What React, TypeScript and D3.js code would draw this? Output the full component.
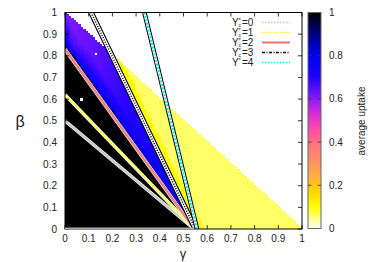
import { useEffect, useRef } from "react"
import * as d3 from "d3"

const gammaTicks = [0, 0.1, 0.2, 0.3, 0.4, 0.5, 0.6, 0.7, 0.8, 0.9, 1]
const betaTicks = [0, 0.1, 0.2, 0.3, 0.4, 0.5, 0.6, 0.7, 0.8, 0.9, 1]
const cbTicks = [0, 0.2, 0.4, 0.6, 0.8, 1]

// colour bar palette, value -> colour
const paletteValues = [0, 0.06, 0.1, 0.18, 0.24, 0.3, 0.38, 0.45, 0.52, 0.58, 0.64, 0.7, 0.8, 0.9, 1]
const paletteColors = ["#ffffff", "#ffff66", "#ffff00", "#ffd000", "#ffb040", "#ff9460", "#ff7878", "#ff50a0",
    "#e030d0", "#a020f0", "#6010ff", "#2000ff", "#0000f0", "#000080", "#000000"]

// Y* threshold lines: start (γ, β) and end (γ, β)
const lineNames = ["0", "1", "2", "3", "4"]
const lineGamma0 = [0, 0, 0, 0.11, 0.335]
const lineBeta0 = [0.5, 0.62, 0.83, 1, 1]
const lineGamma1 = [0.545, 0.545, 0.545, 0.55, 0.557]
const lineBeta1 = [0, 0, 0, 0, 0]
// Y*=0 also runs along the γ axis
const axisLineGamma = [0, 0.545]

// heat map (grid step 0.01 on the triangle β+γ<=1)
const gridStep = 0.01
const blackEdgeBeta = 0.855   // upper edge of the uptake=1 region at γ=0
const blackEdgeGamma = 0.545  // ... and where it meets β=0
const bandBeta = [1, 0.8, 0.6, 0.4, 0.2, 0]
const bandT = [0, 0.15, 0.5, 1]
const bandValues = [
    [0.74, 0.63, 0.6, 0.61],
    [0.8, 0.69, 0.64, 0.66],
    [0.84, 0.74, 0.68, 0.7],
    [0.86, 0.78, 0.72, 0.74],
    [0.88, 0.82, 0.77, 0.79],
    [0.9, 0.87, 0.84, 0.85],
]
const yellowNear = 0.1
const yellowFar = 0.06
const yellowStrip = 0.035
const whiteCells = [[0.07, 0.6], [0.13, 0.81]]

const font = "'Liberation Sans', Arial, sans-serif"

const App = () => {
    const ref = useRef<SVGSVGElement>(null)

    useEffect(() => {
        const svg = d3.select(ref.current)
        svg.selectAll("*").remove()

        const x = d3.scaleLinear().domain([0, 1]).range([65, 302])
        const y = d3.scaleLinear().domain([0, 1]).range([229, 12.5])
        const cy = d3.scaleLinear().domain([0, 1]).range([228.5, 12.5])
        const color = d3.scaleLinear<string>().domain(paletteValues).range(paletteColors)
        const cbx0 = 308, cbx1 = 321

        const y3Gamma = (b: number) => lineGamma1[3] + (lineGamma0[3] - lineGamma1[3]) * (b - lineBeta1[3]) / (lineBeta0[3] - lineBeta1[3])
        const blackTop = (g: number) => blackEdgeBeta * (1 - g / blackEdgeGamma)
        const blackGamma = (b: number) => Math.max(0, blackEdgeGamma * (1 - b / blackEdgeBeta))

        const lookup = (arr: number[], v: number) => {
            let k = 0
            while (k < arr.length - 2 && !(v <= arr[k] && v >= arr[k + 1]) && !(v >= arr[k] && v <= arr[k + 1])) k++
            const f = (v - arr[k]) / (arr[k + 1] - arr[k])
            return [k, Math.max(0, Math.min(1, f))]
        }
        const bandValue = (b: number, t: number) => {
            const [r, fr] = lookup(bandBeta, b)
            const [c, fc] = lookup(bandT, t)
            const v0 = bandValues[r][c] + (bandValues[r][c + 1] - bandValues[r][c]) * fc
            const v1 = bandValues[r + 1][c] + (bandValues[r + 1][c + 1] - bandValues[r + 1][c]) * fc
            return v0 + (v1 - v0) * fr
        }

        const cells: { g: number, b: number, v: number }[] = []
        const n = Math.round(1 / gridStep)
        for (let i = 0; i <= n; i++) {
            for (let j = 0; j <= n - i; j++) {
                const g = i * gridStep, b = j * gridStep
                let v
                const g3 = y3Gamma(b)
                if (b <= blackTop(g) + 1e-9) v = 1
                else if (g < g3 - 1e-9) {
                    const left = blackGamma(b)
                    const right = Math.min(g3, 1 - b)
                    const t = right > left ? (g - left) / (right - left) : 0
                    v = bandValue(b, t)
                } else v = g - g3 < yellowStrip ? yellowNear : yellowFar
                if (whiteCells.some(([wg, wb]) => Math.abs(wg - g) < 1e-6 && Math.abs(wb - b) < 1e-6)) v = 0
                cells.push({ g, b, v })
            }
        }

        const defs = svg.append("defs")
        defs.append("clipPath").attr("id", "plotclip")
            .append("rect").attr("x", x(0)).attr("y", y(1)).attr("width", x(1) - x(0)).attr("height", y(0) - y(1))
        const grad = defs.append("linearGradient").attr("id", "cbgrad")
            .attr("x1", 0).attr("y1", 1).attr("x2", 0).attr("y2", 0)
        paletteValues.forEach((v, k) => grad.append("stop").attr("offset", v).attr("stop-color", paletteColors[k]))

        const cw = x(gridStep) - x(0), ch = y(0) - y(gridStep)
        svg.append("g").attr("clip-path", "url(#plotclip)").attr("shape-rendering", "crispEdges")
            .selectAll("rect").data(cells).join("rect")
            .attr("x", d => x(d.g - gridStep / 2))
            .attr("y", d => y(d.b + gridStep / 2))
            .attr("width", cw + 0.4)
            .attr("height", ch + 0.4)
            .attr("fill", d => color(d.v))

        // threshold lines
        const lg = svg.append("g").attr("clip-path", "url(#plotclip)")
        const seg = (k: number) => [[x(lineGamma0[k]), y(lineBeta0[k])], [x(lineGamma1[k]), y(lineBeta1[k])]]
        const draw = (k: number, stroke: string, width: number, dash?: string) => {
            const [[x1, y1], [x2, y2]] = seg(k)
            lg.append("line").attr("x1", x1).attr("y1", y1).attr("x2", x2).attr("y2", y2)
                .attr("stroke", stroke).attr("stroke-width", width)
                .attr("stroke-dasharray", dash || null)
        }
        draw(0, "#ffffff", 3.4); draw(0, "#c8c8c8", 2.2)
        draw(1, "#ffffff", 3.4); draw(1, "#ffff00", 2, "2,1")
        draw(2, "#ffffff", 3.6); draw(2, "#f08080", 2.6)
        draw(3, "#000000", 5.6); draw(3, "#ffffff", 3.4); draw(3, "#000000", 1.6, "1,1.5")
        draw(4, "#000000", 4.6); draw(4, "#ffffff", 2.6); draw(4, "#00e8f0", 2, "2,1.5")

        // border and ticks
        svg.append("rect").attr("x", x(0)).attr("y", y(1)).attr("width", x(1) - x(0)).attr("height", y(0) - y(1))
            .attr("fill", "none").attr("stroke", "#000").attr("stroke-width", 1)
        const tk = svg.append("g").attr("stroke", "#000").attr("stroke-width", 0.8)
        gammaTicks.forEach(t => {
            tk.append("line").attr("x1", x(t)).attr("x2", x(t)).attr("y1", y(0)).attr("y2", y(0) - 4)
            tk.append("line").attr("x1", x(t)).attr("x2", x(t)).attr("y1", y(1)).attr("y2", y(1) + 4)
        })
        betaTicks.forEach(t => {
            tk.append("line").attr("x1", x(0)).attr("x2", x(0) + 4).attr("y1", y(t)).attr("y2", y(t))
            tk.append("line").attr("x1", x(1)).attr("x2", x(1) - 4).attr("y1", y(t)).attr("y2", y(t))
        })

        svg.append("line").attr("x1", x(axisLineGamma[0])).attr("x2", x(axisLineGamma[1]))
            .attr("y1", y(0) - 0.5).attr("y2", y(0) - 0.5)
            .attr("stroke", "#a8a8a8").attr("stroke-width", 2.2)

        const txt = svg.append("g").attr("font-family", font).attr("font-size", 10).attr("fill", "#222")
        gammaTicks.forEach(t => {
            txt.append("text").attr("x", x(t)).attr("y", 242).attr("text-anchor", "middle").text(d3.format("~g")(t))
        })
        betaTicks.forEach(t => {
            txt.append("text").attr("x", 57).attr("y", y(t) + 3.5).attr("text-anchor", "end").text(d3.format("~g")(t))
        })
        txt.append("text").attr("x", 20).attr("y", 127).attr("text-anchor", "middle").attr("font-size", 16).text("β")
        txt.append("text").attr("x", 183).attr("y", 258).attr("text-anchor", "middle").attr("font-size", 13).text("γ")

        // legend
        const legendY = (k: number) => 22.5 + k * 10
        const legendStyles = [
            { stroke: "#c8c8c8", width: 1.5, dash: "1.5,1.5" },
            { stroke: "#ffff00", width: 1.5, dash: "1.5,1.5" },
            { stroke: "#f07070", width: 2, dash: null },
            { stroke: "#000000", width: 1.5, dash: "3,1.5,1,1.5" },
            { stroke: "#00ffff", width: 1.5, dash: "1.5,1.5" },
        ]
        lineNames.forEach((name, k) => {
            const ly = legendY(k)
            txt.append("text").attr("x", 232).attr("y", ly + 3.5).text("Y")
            txt.append("text").attr("x", 238.5).attr("y", ly - 1).attr("font-size", 6).text("*")
            txt.append("text").attr("x", 238.5).attr("y", ly + 4.5).attr("font-size", 5).text(k < 4 ? "c" : "")
            txt.append("text").attr("x", 242).attr("y", ly + 3.5).text("=" + name)
            const s = legendStyles[k]
            svg.append("line").attr("x1", 262).attr("x2", 290).attr("y1", ly).attr("y2", ly)
                .attr("stroke", s.stroke).attr("stroke-width", s.width).attr("stroke-dasharray", s.dash)
        })

        // colour bar
        svg.append("rect").attr("x", cbx0).attr("y", cy(1)).attr("width", cbx1 - cbx0).attr("height", cy(0) - cy(1))
            .attr("fill", "url(#cbgrad)").attr("stroke", "#666").attr("stroke-width", 1)
        cbTicks.forEach(t => {
            if (t > 0 && t < 1) {
                svg.append("line").attr("x1", cbx0).attr("x2", cbx0 + 3.5).attr("y1", cy(t)).attr("y2", cy(t))
                    .attr("stroke", "#333").attr("stroke-width", 0.8)
                svg.append("line").attr("x1", cbx1).attr("x2", cbx1 - 3.5).attr("y1", cy(t)).attr("y2", cy(t))
                    .attr("stroke", "#333").attr("stroke-width", 0.8)
            }
            txt.append("text").attr("x", 329).attr("y", cy(t) + 3.5).text(d3.format("~g")(t))
        })
        txt.append("text").attr("transform", "translate(365,121) rotate(-90)").attr("text-anchor", "middle")
            .text("average uptake")
    }, [])

    return (
        <div style={{ position: "absolute", left: 0, top: 0 }}>
            <svg ref={ref} width={374} height={262} style={{ display: "block", background: "#fff" }}></svg>
        </div>
    )
}

export default App
